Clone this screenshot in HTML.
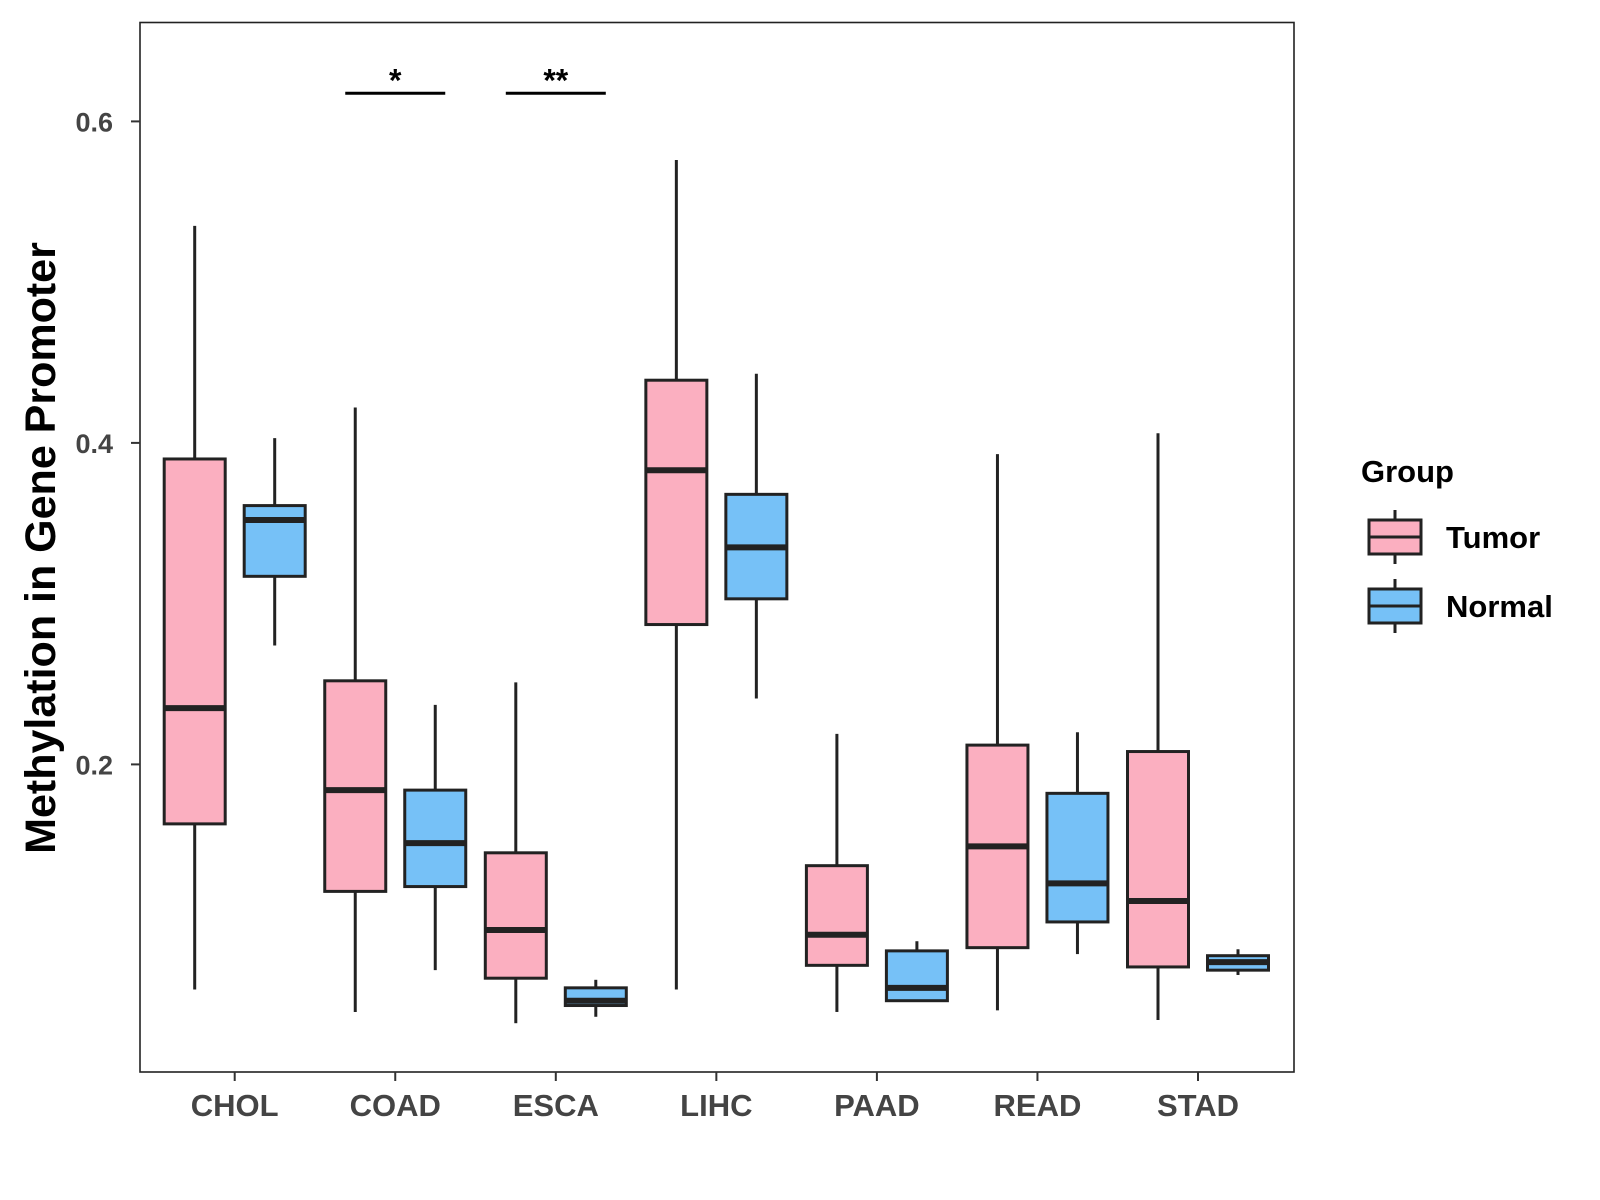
<!DOCTYPE html>
<html><head><meta charset="utf-8"><style>body{margin:0;background:#fff}svg{display:block;font-family:"Liberation Sans",Arial,sans-serif}</style></head>
<body>
<svg id="chart" width="1600" height="1200"></svg>
<script>
const categories = ["CHOL","COAD","ESCA","LIHC","PAAD","READ","STAD"];
// [lowWhisker, q1, median, q3, highWhisker]
const tumorStats = [
 [0.060,0.163,0.235,0.390,0.535],
 [0.046,0.121,0.184,0.252,0.422],
 [0.039,0.067,0.097,0.145,0.251],
 [0.060,0.287,0.383,0.439,0.576],
 [0.046,0.075,0.094,0.137,0.219],
 [0.047,0.086,0.149,0.212,0.393],
 [0.041,0.074,0.115,0.208,0.406]];
const normalStats = [
 [0.274,0.317,0.352,0.361,0.403],
 [0.072,0.124,0.151,0.184,0.237],
 [0.043,0.050,0.053,0.061,0.066],
 [0.241,0.303,0.335,0.368,0.443],
 [0.053,0.053,0.061,0.084,0.090],
 [0.082,0.102,0.126,0.182,0.220],
 [0.069,0.072,0.077,0.081,0.085]];
const yTicks = [0.2,0.4,0.6];
const yTickLabels = ["0.2","0.4","0.6"];
const sigCats = ["COAD","ESCA"];
const sigLabels = ["*","**"];
const sigLevel = 0.62;

const svg=document.getElementById('chart');
const NS='http://www.w3.org/2000/svg';
const L=140,R=1294,T=22.5,B=1072;
function y(v){return 764.4-(v-0.2)*1607.5;}
function x(i){return 234.7+i*160.55;}
function mk(tag,attrs,parent){const e=document.createElementNS(NS,tag);for(const k in attrs)e.setAttribute(k,attrs[k]);(parent||svg).appendChild(e);return e;}

const panel=mk('rect',{x:L,y:T,width:R-L,height:B-T,fill:'#fff',stroke:'#222','stroke-width':1.6});



yTicks.forEach((v,i)=>{
 const tk=mk('line',{x1:L-9,x2:L,y1:y(v),y2:y(v),stroke:'#333','stroke-width':2});
 
 
 const t=mk('text',{x:L-27,y:y(v)+10,'text-anchor':'end','font-size':27,'font-weight':'bold',fill:'#444'});
 t.textContent=yTickLabels[i];
 
 
});
categories.forEach((c,i)=>{
 const tk=mk('line',{x1:x(i),x2:x(i),y1:B,y2:B+9,stroke:'#333','stroke-width':2});
 
 
 const t=mk('text',{x:x(i),y:1116,'text-anchor':'middle','font-size':31,'font-weight':'bold',fill:'#444'});
 t.textContent=c;
 
 
});
const yt=mk('text',{x:0,y:0,transform:'translate(55,548) rotate(-90)','text-anchor':'middle','font-size':43,'font-weight':'bold',fill:'#000'});
yt.textContent='Methylation in Gene Promoter';



function box(s,cx,fill,name){
 const g=mk('g',{});
 
 
 const w=61;
 mk('line',{x1:cx,x2:cx,y1:y(s[4]),y2:y(s[3]),stroke:'#222','stroke-width':3},g);
 mk('line',{x1:cx,x2:cx,y1:y(s[1]),y2:y(s[0]),stroke:'#222','stroke-width':3},g);
 mk('rect',{x:cx-w/2,y:y(s[3]),width:w,height:Math.max(0.5,y(s[1])-y(s[3])),fill:fill,stroke:'#222','stroke-width':3},g);
 mk('line',{x1:cx-w/2,x2:cx+w/2,y1:y(s[2]),y2:y(s[2]),stroke:'#222','stroke-width':6},g);
}
categories.forEach((c,i)=>{
 box(tumorStats[i],x(i)-40,'#fbafc0','tumor-box-'+c.toLowerCase());
 box(normalStats[i],x(i)+40,'#76c1f7','normal-box-'+c.toLowerCase());
});
sigCats.forEach((c,k)=>{
 const i=categories.indexOf(c);
 const l=mk('line',{x1:x(i)-50,x2:x(i)+50,y1:y(sigLevel)+4,y2:y(sigLevel)+4,stroke:'#000','stroke-width':3});
 
 
 const t=mk('text',{x:x(i),y:y(sigLevel)+2,'text-anchor':'middle','font-size':32,'font-weight':'bold',fill:'#000'});
 t.textContent=sigLabels[k];
 
 
});
// legend
const lg=mk('g',{});


const lt=mk('text',{x:1361,y:482,'font-size':31,'font-weight':'bold',fill:'#000'},lg);
lt.textContent='Group';
[['Tumor','#fbafc0',537],['Normal','#76c1f7',606]].forEach(([n,f,cy])=>{
 const e=mk('g',{},lg);
 
 
 mk('line',{x1:1395,x2:1395,y1:cy-27,y2:cy+27,stroke:'#222','stroke-width':3},e);
 mk('rect',{x:1369,y:cy-17,width:52,height:34,fill:f,stroke:'#222','stroke-width':3},e);
 mk('line',{x1:1369,x2:1421,y1:cy,y2:cy,stroke:'#222','stroke-width':3},e);
 const t=mk('text',{x:1446,y:cy+11,'font-size':31,'font-weight':'bold',fill:'#000'},e);
 t.textContent=n;
});
</script>
</body></html>
